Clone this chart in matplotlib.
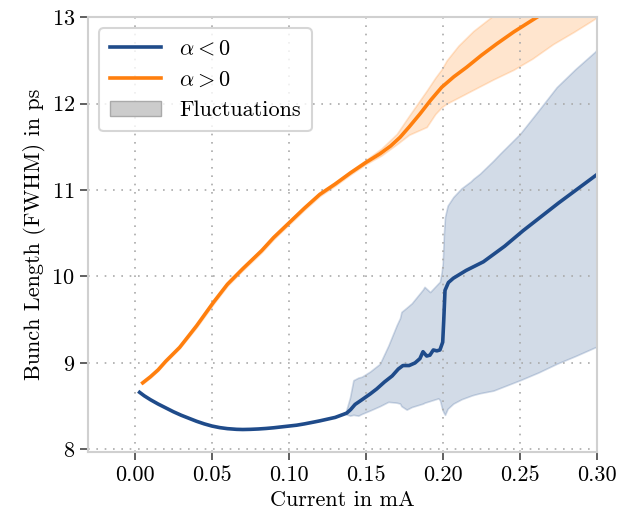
import numpy as np
import matplotlib
matplotlib.use('Agg')
import matplotlib.pyplot as plt

plt.rcParams['font.family'] = 'serif'
plt.rcParams['font.serif'] = ['cmr10', 'DejaVu Serif']
plt.rcParams['mathtext.fontset'] = 'cm'
plt.rcParams['axes.unicode_minus'] = False
plt.rcParams['axes.formatter.use_mathtext'] = True

# alpha < 0 : mean bunch length
neg_x = [0.003, 0.006, 0.01, 0.015, 0.02, 0.025, 0.03, 0.035, 0.04, 0.045, 0.05, 0.055, 0.06,
         0.066, 0.07, 0.075, 0.08, 0.085, 0.09, 0.095, 0.10, 0.105, 0.11, 0.1158, 0.12, 0.125,
         0.13, 0.1353, 0.1375, 0.14, 0.1429, 0.147, 0.1526, 0.157, 0.162, 0.167, 0.171, 0.174,
         0.178, 0.1818, 0.185, 0.187, 0.1894, 0.1915, 0.1937, 0.196, 0.198, 0.1998, 0.2005,
         0.2013, 0.2035, 0.2067, 0.215, 0.2262, 0.24, 0.252, 0.275, 0.30]
neg_y = [8.66, 8.62, 8.575, 8.525, 8.48, 8.435, 8.395, 8.36, 8.325, 8.295, 8.27, 8.252, 8.24,
         8.232, 8.23, 8.232, 8.236, 8.242, 8.25, 8.26, 8.27, 8.28, 8.295, 8.315, 8.33, 8.35,
         8.37, 8.405, 8.42, 8.46, 8.52, 8.57, 8.64, 8.70, 8.78, 8.85, 8.93, 8.97,
         8.97, 9.00, 9.05, 9.13, 9.08, 9.09, 9.15, 9.14, 9.15, 9.24, 9.50,
         9.84, 9.93, 9.98, 10.07, 10.17, 10.35, 10.53, 10.85, 11.18]

# alpha < 0 : fluctuation band
neg_band_x = [0.1365, 0.1396, 0.1418, 0.145, 0.1472, 0.1526, 0.159, 0.1645, 0.170, 0.1721,
              0.173, 0.1764, 0.1797, 0.187, 0.188, 0.1916, 0.1969, 0.198, 0.1991, 0.1998,
              0.2006, 0.2013, 0.203, 0.2067, 0.212, 0.218, 0.2197, 0.224, 0.2327, 0.237,
              0.25, 0.262, 0.2738, 0.286, 0.2987, 0.30]
neg_lo = [8.41, 8.39, 8.40, 8.39, 8.41, 8.45, 8.50, 8.55, 8.54, 8.53,
          8.50, 8.46, 8.49, 8.53, 8.54, 8.56, 8.59, 8.57, 8.49, 8.45,
          8.42, 8.40, 8.47, 8.53, 8.58, 8.62, 8.63, 8.65, 8.68, 8.71,
          8.80, 8.89, 8.99, 9.08, 9.18, 9.19]
neg_hi = [8.41, 8.60, 8.80, 8.83, 8.84, 8.90, 8.99, 9.20, 9.44, 9.52,
          9.59, 9.64, 9.69, 9.85, 9.88, 9.82, 9.92, 9.94, 10.05, 10.15,
          10.50, 10.69, 10.82, 10.92, 11.02, 11.10, 11.13, 11.19, 11.34, 11.42,
          11.65, 11.92, 12.19, 12.40, 12.60, 12.63]

# alpha > 0 : mean bunch length
pos_x = [0.005, 0.01, 0.015, 0.02, 0.029, 0.04, 0.0509, 0.06, 0.07, 0.0823, 0.09, 0.10, 0.11,
         0.12, 0.13, 0.14, 0.15, 0.1591, 0.166, 0.1721, 0.178, 0.185, 0.192, 0.1992, 0.207,
         0.2153, 0.225, 0.2348, 0.246, 0.2575, 0.27]
pos_y = [8.77, 8.84, 8.92, 9.02, 9.18, 9.43, 9.70, 9.91, 10.09, 10.30, 10.45, 10.62, 10.79,
         10.95, 11.07, 11.20, 11.32, 11.42, 11.51, 11.61, 11.73, 11.88, 12.04, 12.19, 12.31,
         12.42, 12.56, 12.69, 12.83, 12.96, 13.10]

# alpha > 0 : fluctuation band
pos_band_x = [0.005, 0.01, 0.015, 0.02, 0.029, 0.04, 0.0509, 0.06, 0.07, 0.0823, 0.09, 0.10,
              0.11, 0.12, 0.13, 0.14, 0.15, 0.16, 0.17, 0.178, 0.1894, 0.195, 0.1992, 0.2024,
              0.21, 0.2197, 0.2327, 0.2456, 0.258, 0.2716, 0.285, 0.2976, 0.30]
pos_lo = [8.76, 8.83, 8.91, 9.01, 9.17, 9.41, 9.68, 9.89, 10.07, 10.28, 10.43, 10.60,
          10.77, 10.93, 11.05, 11.18, 11.30, 11.40, 11.53, 11.64, 11.73, 11.88, 11.96, 12.00,
          12.07, 12.16, 12.28, 12.39, 12.52, 12.69, 12.83, 12.97, 13.0]
pos_hi = [8.78, 8.85, 8.93, 9.03, 9.20, 9.45, 9.72, 9.93, 10.11, 10.32, 10.47, 10.64,
          10.81, 10.97, 11.09, 11.22, 11.35, 11.48, 11.65, 11.86, 12.15, 12.30, 12.40, 12.50,
          12.67, 12.84, 13.02, 13.2, 13.35, 13.5, 13.65, 13.8, 13.85]

blue = '#1f4b8a'
orange = '#ff7f0e'

fig = plt.figure(figsize=(6.26, 5.2), dpi=100)
ax = fig.add_axes([0.1406, 0.1308, 0.8131, 0.8362])

ax.fill_between(neg_band_x, neg_lo, neg_hi, color=blue, alpha=0.2, linewidth=1.2,
                edgecolor=blue)
ax.fill_between(pos_band_x, pos_lo, pos_hi, color=orange, alpha=0.2, linewidth=1.2,
                edgecolor=orange)
ax.plot(neg_x, neg_y, color=blue, linewidth=2.6, label=r'$\alpha < 0$')
ax.plot(pos_x, pos_y, color=orange, linewidth=2.6, label=r'$\alpha > 0$')
ax.fill_between([], [], [], facecolor='#cccccc', edgecolor='#aaaaaa', label='Fluctuations')

ax.set_xlim(-0.0305, 0.30)
ax.set_ylim(7.97, 13)
ax.set_xticks([0.0, 0.05, 0.10, 0.15, 0.20, 0.25, 0.30])
ax.set_xticklabels(['0.00', '0.05', '0.10', '0.15', '0.20', '0.25', '0.30'])
ax.set_yticks([8, 9, 10, 11, 12, 13])
ax.set_xlabel('Current in mA', fontsize=16)
ax.set_ylabel('Bunch Length (FWHM) in ps', fontsize=16)
ax.tick_params(labelsize=16, length=6, width=1.2, color='#444444')
ax.grid(True, linestyle=(0, (1, 4)), color='#aaaaaa', linewidth=1.2)
for s in ax.spines.values():
    s.set_color('#d0d0d0')
    s.set_linewidth(1.5)

leg = ax.legend(loc='upper left', fontsize=16, frameon=True, fancybox=True,
                handlelength=2.3, borderpad=0.5)
leg.get_frame().set_edgecolor('#cccccc')
leg.get_frame().set_linewidth(1.5)

fig.savefig('out.png', dpi=100)
